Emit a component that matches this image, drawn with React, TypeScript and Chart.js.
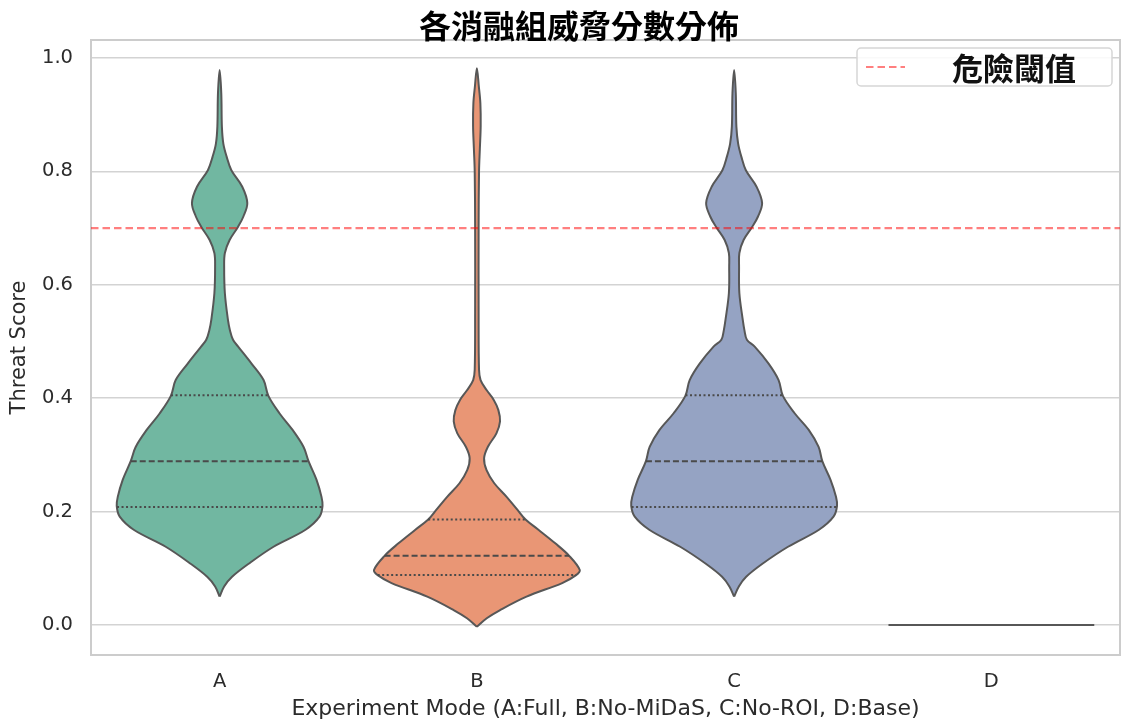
import { useEffect, useRef } from "react";
import { Chart, registerables } from "chart.js";

Chart.register(...registerables);

// Categories and axis ticks
const categories = ["A", "B", "C", "D"];
const yTicks = [0, 0.2, 0.4, 0.6, 0.8, 1.0];
const thresholdValue = 0.7;
const thresholdLabel = "危險閾值";
const chartTitle = "各消融組威脅分數分佈";

// Density profile of each group: score levels and relative density (1 = widest)
const aLevels = [0.05, 0.068, 0.085, 0.108, 0.138, 0.168, 0.191, 0.21, 0.226, 0.256, 0.289, 0.314, 0.344, 0.373, 0.404, 0.432, 0.461, 0.491, 0.503, 0.52, 0.538, 0.585, 0.632, 0.656, 0.679, 0.702, 0.72, 0.744, 0.773, 0.802, 0.826, 0.849, 0.879, 0.938, 0.979];
const aDensity = [0, 0.044, 0.121, 0.282, 0.524, 0.835, 0.971, 1.0, 0.99, 0.942, 0.864, 0.816, 0.709, 0.583, 0.474, 0.427, 0.31, 0.18, 0.13, 0.1, 0.081, 0.051, 0.044, 0.051, 0.097, 0.178, 0.23, 0.269, 0.22, 0.114, 0.068, 0.036, 0.022, 0.016, 0];
const aQuartiles = [0.208, 0.289, 0.405];

const bLevels = [-0.003, 0.012, 0.026, 0.05, 0.074, 0.088, 0.097, 0.122, 0.144, 0.168, 0.186, 0.203, 0.226, 0.25, 0.273, 0.294, 0.314, 0.338, 0.359, 0.379, 0.397, 0.414, 0.432, 0.45, 0.55, 0.7, 0.8, 0.84, 0.88, 0.92, 0.95, 0.982];
const bDensity = [0, 0.096, 0.222, 0.482, 0.829, 0.964, 1.0, 0.897, 0.762, 0.598, 0.473, 0.395, 0.289, 0.169, 0.094, 0.07, 0.106, 0.19, 0.225, 0.209, 0.164, 0.096, 0.036, 0.021, 0.017, 0.017, 0.021, 0.029, 0.037, 0.034, 0.019, 0];
const bQuartiles = [0.088, 0.122, 0.186];

const cLevels = [0.05, 0.068, 0.085, 0.108, 0.138, 0.168, 0.191, 0.21, 0.226, 0.256, 0.289, 0.314, 0.344, 0.373, 0.404, 0.432, 0.461, 0.491, 0.503, 0.52, 0.538, 0.585, 0.632, 0.656, 0.679, 0.702, 0.72, 0.744, 0.773, 0.802, 0.826, 0.849, 0.879, 0.938, 0.979];
const cDensity = [0, 0.046, 0.117, 0.275, 0.524, 0.825, 0.966, 1.0, 0.99, 0.937, 0.857, 0.821, 0.725, 0.59, 0.474, 0.432, 0.335, 0.2, 0.124, 0.1, 0.084, 0.051, 0.048, 0.051, 0.092, 0.175, 0.231, 0.272, 0.218, 0.114, 0.07, 0.039, 0.022, 0.016, 0];
const cQuartiles = [0.208, 0.289, 0.405];

// Group D has a single constant score
const dScore = 0;

const violinLevels = [aLevels, bLevels, cLevels];
const violinDensity = [aDensity, bDensity, cDensity];
const violinQuartiles = [aQuartiles, bQuartiles, cQuartiles];
const violinColors = ["#71b7a1", "#e99675", "#95a3c3"];

const HALF_WIDTH = 0.4;
const OUTLINE = "#575757";
const INNER = "#4a4a4a";
const GRID = "#d3d3d3";
const TEXT = "#2b2b2b";
const SANS = "'DejaVu Sans', sans-serif";
const CJK = "'Noto Sans CJK TC', 'Noto Sans CJK SC', sans-serif";

function violinOutline(center: number, levels: number[], density: number[]) {
  const right = levels.map((v, i) => ({ x: center + HALF_WIDTH * density[i], y: v }));
  const left = levels.map((v, i) => ({ x: center - HALF_WIDTH * density[i], y: v })).reverse();
  return [...right, ...left.slice(1)];
}

function densityAt(levels: number[], density: number[], q: number) {
  for (let i = 0; i < levels.length - 1; i++) {
    if (q >= levels[i] && q <= levels[i + 1]) {
      const t = (q - levels[i]) / (levels[i + 1] - levels[i]);
      return density[i] + t * (density[i + 1] - density[i]);
    }
  }
  return 0;
}

// Light frame around the plotting area
const framePlugin = {
  id: "frame",
  beforeDatasetsDraw(chart: any) {
    const { ctx, chartArea } = chart;
    ctx.save();
    ctx.strokeStyle = "#cccccc";
    ctx.lineWidth = 2;
    ctx.strokeRect(chartArea.left, chartArea.top, chartArea.right - chartArea.left, chartArea.bottom - chartArea.top);
    ctx.restore();
  },
};

// Title sitting just above the frame
const titlePlugin = {
  id: "plotTitle",
  afterDraw(chart: any) {
    const { ctx, chartArea } = chart;
    ctx.save();
    ctx.fillStyle = "#000000";
    ctx.font = `bold 32px ${CJK}`;
    ctx.textAlign = "center";
    ctx.textBaseline = "middle";
    ctx.fillText(chartTitle, 579, chartArea.top - 14);
    ctx.restore();
  },
};

// Boxed legend entry for the threshold line
const legendPlugin = {
  id: "thresholdLegend",
  afterDraw(chart: any) {
    const ds = chart.data.datasets.find((d: any) => d.label === thresholdLabel);
    if (!ds) return;
    const { ctx, chartArea } = chart;
    const right = chartArea.right - 8;
    const top = chartArea.top + 8;
    const w = 255;
    const h = 38;
    const left = right - w;
    ctx.save();
    ctx.beginPath();
    ctx.roundRect(left, top, w, h, 4);
    ctx.fillStyle = "rgba(255,255,255,0.85)";
    ctx.fill();
    ctx.strokeStyle = "#d6d6d6";
    ctx.lineWidth = 1.5;
    ctx.stroke();
    const midY = top + h / 2;
    ctx.beginPath();
    ctx.setLineDash(ds.borderDash);
    ctx.strokeStyle = ds.borderColor;
    ctx.lineWidth = ds.borderWidth;
    ctx.moveTo(left + 9, midY);
    ctx.lineTo(left + 48, midY);
    ctx.stroke();
    ctx.setLineDash([]);
    ctx.fillStyle = "#111111";
    ctx.font = `bold 31px ${CJK}`;
    ctx.textBaseline = "middle";
    ctx.textAlign = "left";
    ctx.fillText(ds.label, left + 95, midY + 1);
    ctx.restore();
  },
};

export default function App() {
  const canvasRef = useRef<HTMLCanvasElement | null>(null);

  useEffect(() => {
    document.body.style.margin = "0";
    const canvas = canvasRef.current;
    if (!canvas) return;

    const datasets: any[] = [];

    datasets.push({
      label: thresholdLabel,
      data: [
        { x: -0.5, y: thresholdValue },
        { x: 3.5, y: thresholdValue },
      ],
      borderColor: "rgba(255, 0, 0, 0.5)",
      borderWidth: 2.2,
      borderDash: [7.5, 4],
      pointRadius: 0,
      fill: false,
      order: 0,
    });

    violinLevels.forEach((levels, i) => {
      const density = violinDensity[i];
      datasets.push({
        label: `violin-${categories[i]}`,
        data: violinOutline(i, levels, density),
        backgroundColor: violinColors[i],
        borderColor: OUTLINE,
        borderWidth: 2,
        pointRadius: 0,
        tension: 0.35,
        fill: "shape",
        order: 2,
      });
      violinQuartiles[i].forEach((q, k) => {
        const d = densityAt(levels, density, q) * HALF_WIDTH;
        datasets.push({
          label: `quartile-${categories[i]}-${k}`,
          data: [
            { x: i - d, y: q },
            { x: i + d, y: q },
          ],
          borderColor: INNER,
          borderWidth: 2,
          borderDash: k === 1 ? [6, 3] : [2, 2.5],
          pointRadius: 0,
          fill: false,
          order: 1,
        });
      });
    });

    datasets.push({
      label: `violin-${categories[3]}`,
      data: [
        { x: 3 - HALF_WIDTH, y: dScore },
        { x: 3 + HALF_WIDTH, y: dScore },
      ],
      borderColor: OUTLINE,
      borderWidth: 2.2,
      pointRadius: 0,
      fill: false,
      order: 2,
    });

    const chart = new Chart(canvas, {
      type: "line",
      data: { datasets },
      options: {
        responsive: false,
        animation: false,
        devicePixelRatio: 1,
        layout: { padding: { left: 0, right: 2, top: 40, bottom: 0 } },
        plugins: {
          legend: { display: false },
          tooltip: { enabled: false },
          title: { display: false },
        },
        scales: {
          x: {
            type: "linear",
            min: -0.5,
            max: 3.5,
            afterBuildTicks: (s: any) => {
              s.ticks = categories.map((_, i) => ({ value: i }));
            },
            afterFit: (s: any) => {
              s.height = 70;
            },
            ticks: {
              callback: (v: any) => categories[Math.round(Number(v))],
              color: TEXT,
              font: { family: SANS, size: 19.5 },
              padding: 15.5,
              maxRotation: 0,
            },
            grid: { display: false, drawTicks: false },
            border: { display: true, color: "#cccccc", width: 2 },
            title: {
              display: true,
              text: "Experiment Mode (A:Full, B:No-MiDaS, C:No-ROI, D:Base)",
              color: TEXT,
              font: { family: SANS, size: 22 },
              padding: { top: 0, bottom: 2.8 },
            },
          },
          y: {
            type: "linear",
            min: -0.0529,
            max: 1.0317,
            afterBuildTicks: (s: any) => {
              s.ticks = yTicks.map((v) => ({ value: v }));
            },
            afterFit: (s: any) => {
              s.width = 91;
            },
            ticks: {
              callback: (v: any) => Number(v).toFixed(1),
              color: TEXT,
              font: { family: SANS, size: 19.5 },
              padding: 18,
            },
            grid: { color: GRID, lineWidth: 1.5, drawTicks: false },
            border: { display: true, color: "#cccccc", width: 2 },
            title: {
              display: true,
              text: "Threat Score",
              color: TEXT,
              font: { family: SANS, size: 21 },
              padding: { top: 7.4, bottom: 0 },
            },
          },
        },
      },
      plugins: [framePlugin, titlePlugin, legendPlugin],
    } as any);

    return () => chart.destroy();
  }, []);

  return (
    <div style={{ position: "fixed", left: 0, top: 0, width: 1122, height: 725 }}>
      <canvas ref={canvasRef} width={1122} height={725} />
    </div>
  );
}
